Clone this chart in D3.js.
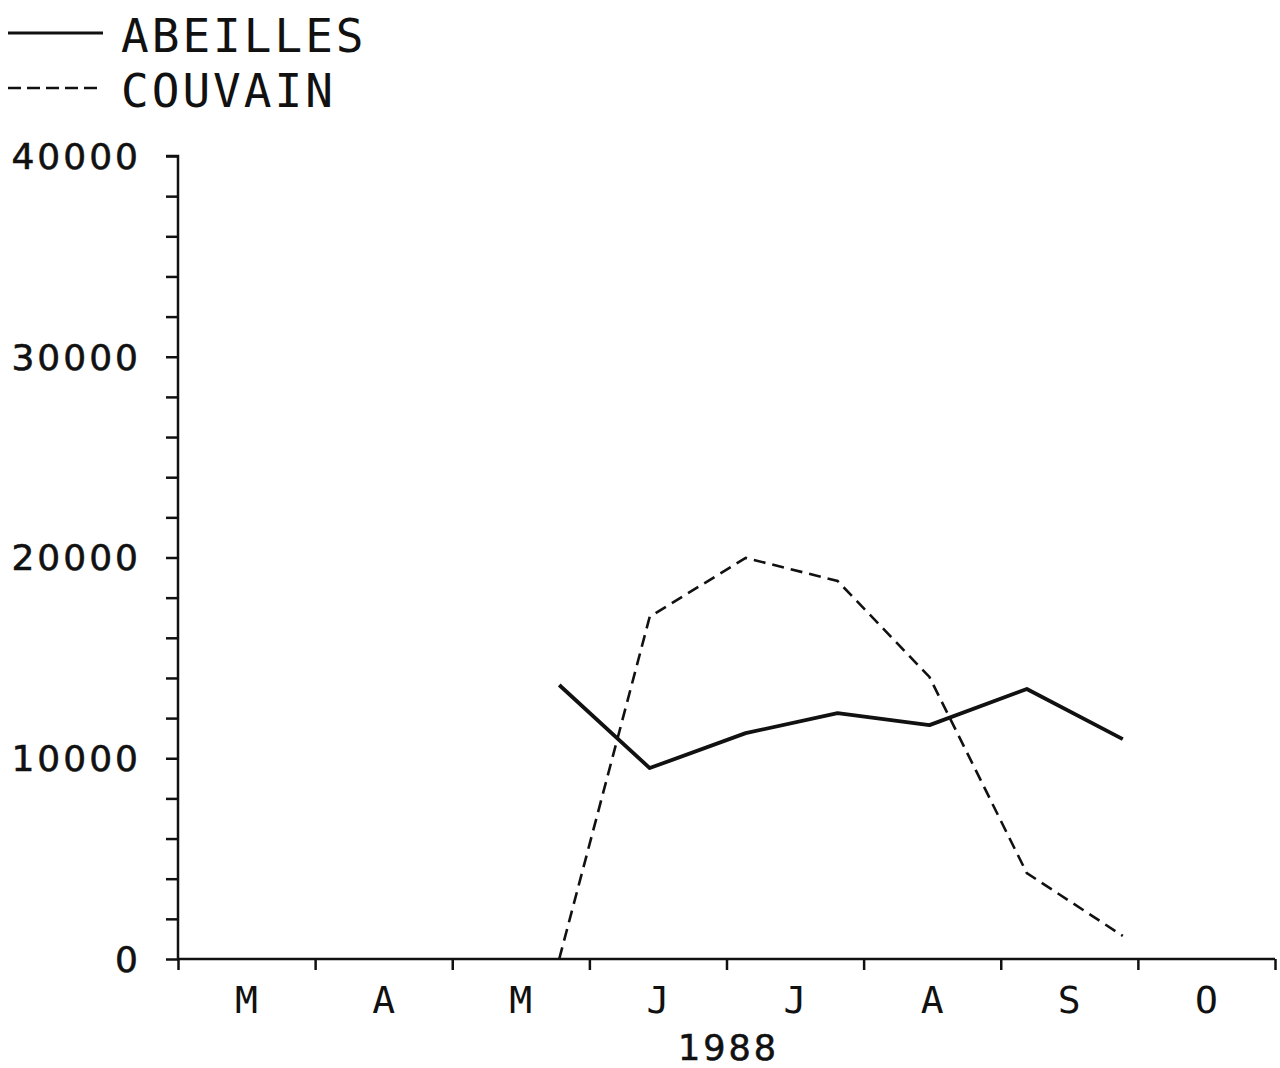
<!DOCTYPE html>
<html>
<head>
<meta charset="utf-8">
<script src="https://cdn.jsdelivr.net/npm/d3@7/dist/d3.min.js"></script>
<style>
  html, body { margin: 0; padding: 0; background: #fff; }
  svg { display: block; }
</style>
</head>
<body>
<script>
// ---- Data (x = months elapsed since 1 March 1988) ----
const monthLabels = ["M", "A", "M", "J", "J", "A", "S", "O"];
const sampleMonths = [2.78, 3.44, 4.14, 4.81, 5.48, 6.19, 6.89];
const abeilles = [13650, 9510, 11250, 12250, 11650, 13450, 10950];
const couvain = [0, 17050, 19980, 18830, 14050, 4280, 1150];
const yTickValues = [0, 10000, 20000, 30000, 40000];
const yMinorStep = 2000;
const yearLabel = "1988";
const seriesNames = ["ABEILLES", "COUVAIN"];

const W = 1280, H = 1068;
const svg = d3.select("body").append("svg").attr("width", W).attr("height", H);

const x = d3.scaleLinear().domain([0, monthLabels.length]).range([178, 1275]);
const y = d3.scaleLinear().domain([0, 40000]).range([959, 156]);
const ink = "#111";

// Y axis
const yAxis = d3.axisLeft(y)
  .tickValues(d3.range(0, 40001, yMinorStep))
  .tickSize(12)
  .tickFormat("");
const gy = svg.append("g").attr("transform", `translate(${x(0)},0)`).call(yAxis);
gy.select(".domain").attr("d", `M-12,${y(40000)}H0V${y(0)}`);
gy.selectAll("path,line").attr("stroke", ink).attr("stroke-width", 2.5);

svg.append("g").selectAll("text").data(yTickValues).join("text")
  .attr("x", 141).attr("y", d => y(d))
  .attr("dy", "0.36em")
  .attr("text-anchor", "end")
  .attr("font-family", "DejaVu Sans")
  .attr("font-size", 36)
  .attr("letter-spacing", 3)
  .attr("fill", ink)
  .attr("stroke", ink).attr("stroke-width", 0.6)
  .text(d => d);

// X axis
const xAxis = d3.axisBottom(x)
  .tickValues(d3.range(0, monthLabels.length + 1))
  .tickSize(11)
  .tickFormat("");
const gx = svg.append("g").attr("transform", `translate(0,${y(0)})`).call(xAxis);
gx.select(".domain").attr("d", `M${x(0)},0H${x(monthLabels.length)}`);
gx.selectAll("path,line").attr("stroke", ink).attr("stroke-width", 2.5);

svg.append("g").selectAll("text").data(monthLabels).join("text")
  .attr("x", (d, i) => x(i + 0.5))
  .attr("y", 1013)
  .attr("text-anchor", "middle")
  .attr("font-family", "DejaVu Sans Mono")
  .attr("font-size", 38)
  .attr("fill", ink)
  .text(d => d);

svg.append("text")
  .attr("x", x(4) + 2).attr("y", 1060)
  .attr("text-anchor", "middle")
  .attr("font-family", "DejaVu Sans")
  .attr("font-size", 35)
  .attr("letter-spacing", 3)
  .attr("fill", ink)
  .attr("stroke", ink).attr("stroke-width", 0.6)
  .text(yearLabel);

// Lines
const line = d3.line().x((d, i) => x(sampleMonths[i])).y(d => y(d));
svg.append("path").datum(couvain)
  .attr("d", line)
  .attr("fill", "none").attr("stroke", ink)
  .attr("stroke-width", 2.6)
  .attr("stroke-dasharray", "12,7");
svg.append("path").datum(abeilles)
  .attr("d", line)
  .attr("fill", "none").attr("stroke", ink)
  .attr("stroke-width", 3.8)
  .attr("stroke-linejoin", "round");

// Legend
const legend = svg.append("g");
const legY = [33, 88];
legend.append("line").attr("x1", 8).attr("x2", 103).attr("y1", legY[0]).attr("y2", legY[0])
  .attr("stroke", ink).attr("stroke-width", 3);
legend.append("line").attr("x1", 8).attr("x2", 103).attr("y1", legY[1]).attr("y2", legY[1])
  .attr("stroke", ink).attr("stroke-width", 2.6).attr("stroke-dasharray", "13,6");
legend.selectAll("text").data(seriesNames).join("text")
  .attr("x", 121)
  .attr("y", (d, i) => legY[i] + 19)
  .attr("font-family", "DejaVu Sans Mono")
  .attr("font-size", 46)
  .attr("letter-spacing", 3)
  .attr("fill", ink)
  .text(d => d);
</script>
</body>
</html>
